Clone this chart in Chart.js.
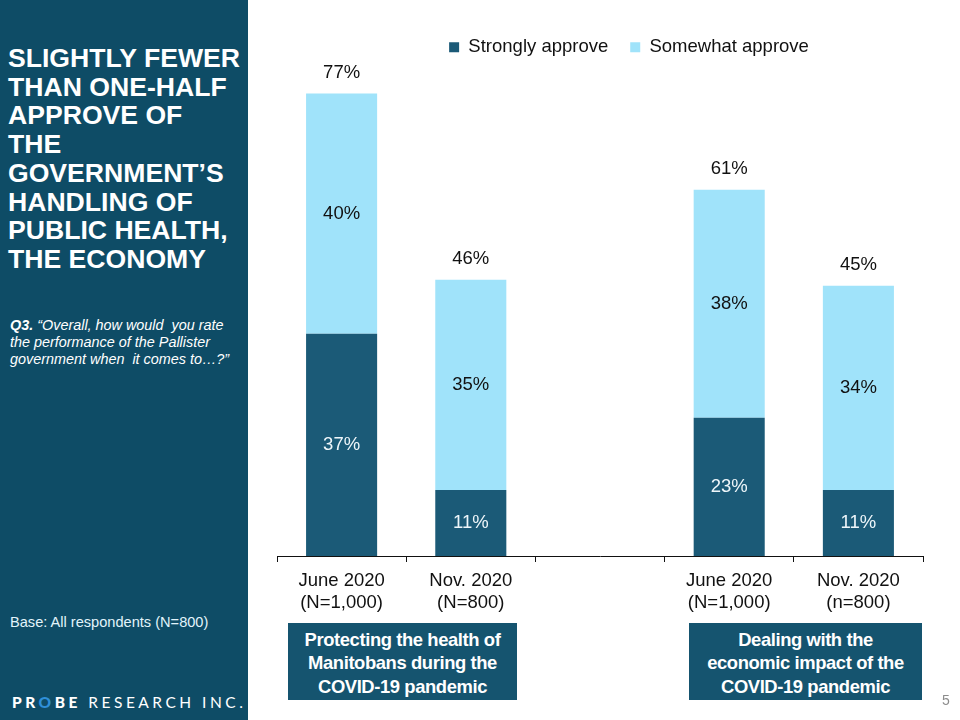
<!DOCTYPE html>
<html>
<head>
<meta charset="utf-8">
<script src="https://cdn.jsdelivr.net/npm/chart.js@4.4.1/dist/chart.umd.min.js"></script>
<style>
  html, body { margin: 0; padding: 0; background: #ffffff; }
  body { width: 960px; height: 720px; position: relative; overflow: hidden; font-family: "Liberation Sans", Arial, sans-serif; }
  #panel { position: absolute; left: 0; top: 0; width: 248px; height: 720px; background: #0e4c66; }
  #title { position: absolute; left: 8px; top: 44px; color: #ffffff; font-weight: bold; font-size: 26.6px; line-height: 28.7px; white-space: nowrap; }
  #question { position: absolute; left: 10px; top: 317px; color: #ffffff; font-style: italic; font-size: 14.4px; line-height: 17px; white-space: nowrap; }
  #base { position: absolute; left: 10px; top: 614px; color: #e2f4fb; font-size: 14.6px; line-height: 17px; white-space: nowrap; }
  #logo { position: absolute; left: 12px; top: 694px; color: #ffffff; font-family: Lato, "Open Sans", sans-serif; font-size: 15.5px; line-height: 17px; letter-spacing: 3.5px; white-space: nowrap; }
  #logo b { font-weight: 900; }
  #logo .o { color: #2f8fd8; }
  #chartwrap { position: absolute; left: 248px; top: 0; width: 712px; height: 720px; }
  .topic { position: absolute; top: 623px; height: 77px; background: #15546f; color: #ffffff; font-weight: bold; font-size: 18.4px; line-height: 23.5px; text-align: center; display: flex; align-items: center; justify-content: center; letter-spacing: -0.4px; padding-top: 3px; box-sizing: border-box; }
  #topic1 { left: 288px; width: 229px; }
  #topic2 { left: 689px; width: 233px; }
  #pagenum { position: absolute; left: 942px; top: 692px; color: #8c8c8c; font-size: 14px; }
</style>
</head>
<body>
<div id="panel">
  <div id="title">SLIGHTLY FEWER<br>THAN ONE-HALF<br>APPROVE OF<br>THE<br>GOVERNMENT’S<br>HANDLING OF<br>PUBLIC HEALTH,<br>THE ECONOMY</div>
  <div id="question"><b>Q3.</b> “Overall, how would &nbsp;you rate<br>the performance of the Pallister<br>government when &nbsp;it comes to…?”</div>
  <div id="base">Base: All respondents (N=800)</div>
  <div id="logo"><b>PR<span class="o">O</span>BE</b> RESEARCH INC.</div>
</div>
<div id="chartwrap"><canvas id="c" width="712" height="720"></canvas></div>
<div class="topic" id="topic1">Protecting the health of<br>Manitobans during the<br>COVID-19 pandemic</div>
<div class="topic" id="topic2">Dealing with the<br>economic impact of the<br>COVID-19 pandemic</div>
<div id="pagenum">5</div>
<script>
// ---- data ----
const categories = [
  ["June 2020", "(N=1,000)"],
  ["Nov. 2020", "(N=800)"],
  "",
  ["June 2020", "(N=1,000)"],
  ["Nov. 2020", "(n=800)"]
];
const seriesNames = ["Strongly approve", "Somewhat approve"];
const stronglyApprove = [37, 11, null, 23, 11];
const somewhatApprove = [40, 35, null, 38, 34];

const FONT = "'Liberation Sans', Arial, sans-serif";
const DARK = "#1b5a77";
const LIGHT = "#a0e3fa";

const legendShift = {
  id: "legendShift",
  afterLayout(chart) {
    const lg = chart.legend;
    if (lg) { lg.left += 29; lg.right += 29; }
  }
};

const valueLabels = {
  id: "valueLabels",
  afterDatasetsDraw(chart) {
    const ctx = chart.ctx;
    ctx.save();
    ctx.font = "18.5px " + FONT;
    ctx.textAlign = "center";
    ctx.textBaseline = "middle";
    const colors = ["#eef6fa", "#111111"];
    chart.data.datasets.forEach((ds, di) => {
      const meta = chart.getDatasetMeta(di);
      meta.data.forEach((el, i) => {
        const v = ds.data[i];
        if (v === null || v === undefined) return;
        const p = el.getProps(["x", "y", "base"], true);
        ctx.fillStyle = colors[di];
        ctx.fillText(v + "%", p.x, (p.y + p.base) / 2);
      });
    });
    // totals above stacks
    const lastMeta = chart.getDatasetMeta(chart.data.datasets.length - 1);
    lastMeta.data.forEach((el, i) => {
      const a = stronglyApprove[i], b = somewhatApprove[i];
      if (a === null || b === null) return;
      const p = el.getProps(["x", "y"], true);
      ctx.fillStyle = "#111111";
      ctx.fillText((a + b) + "%", p.x, p.y - 21);
    });
    ctx.restore();
  }
};

new Chart(document.getElementById("c"), {
  type: "bar",
  data: {
    labels: categories,
    datasets: [
      { label: seriesNames[0], data: stronglyApprove, backgroundColor: DARK, borderWidth: 0 },
      { label: seriesNames[1], data: somewhatApprove, backgroundColor: LIGHT, borderWidth: 0 }
    ]
  },
  options: {
    responsive: false,
    animation: false,
    devicePixelRatio: 1,
    layout: { padding: { left: 29, right: 37, top: 16, bottom: 0 } },
    datasets: { bar: { barPercentage: 0.55, categoryPercentage: 1.0 } },
    plugins: {
      legend: {
        display: true,
        position: "top",
        labels: {
          boxWidth: 10, boxHeight: 10, padding: 22, color: "#111111",
          font: { family: FONT, size: 18.5 }
        }
      },
      tooltip: { enabled: false }
    },
    scales: {
      x: {
        stacked: true,
        grid: { display: true, drawOnChartArea: false, drawTicks: true, tickLength: 6, color: "#111111", offset: true },
        border: { display: true, color: "#111111", width: 1 },
        ticks: { color: "#111111", padding: 8, maxRotation: 0, autoSkip: false, font: { family: FONT, size: 18.5, lineHeight: 1.18 } },
        afterFit(scale) { scale.height = 164; }
      },
      y: {
        stacked: true,
        display: false,
        min: 0,
        max: 81.5
      }
    }
  },
  plugins: [legendShift, valueLabels]
});
</script>
</body>
</html>
